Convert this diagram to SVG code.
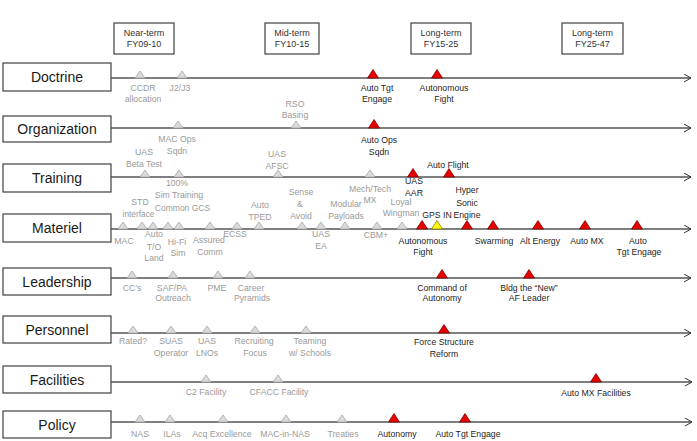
<svg xmlns="http://www.w3.org/2000/svg" xmlns:xlink="http://www.w3.org/1999/xlink" width="697" height="441" viewBox="0 0 697 441">
<style>
text{font-family:"Liberation Sans",Arial,sans-serif;text-anchor:middle}
.box{fill:#fff;stroke:#404040;stroke-width:1.2}
.lbl{font-size:14px;fill:#1a1a1a}
.per{font-size:9px;fill:#333}
.g{font-size:8.7px;fill:#9a9a9a}
.d{font-size:8.7px;fill:#262626}
.tl{stroke:#555;stroke-width:1.3;fill:none;marker-end:url(#arr)}
.tg{fill:#dadada;stroke:#a6a6a6;stroke-width:0.8}
.tr{fill:#e60000;stroke:#800000;stroke-width:0.8}
.ty{fill:#ffff00;stroke:#808000;stroke-width:0.8}
</style>
<defs>
<marker id="arr" markerUnits="userSpaceOnUse" markerWidth="10" markerHeight="10" refX="7" refY="4.5" orient="auto">
<path d="M0,0.5 L7,4.5 L0,8.5" fill="none" stroke="#333" stroke-width="1"/>
</marker>
<path id="tg" class="tg" d="M-5,0 L0,-7 L5,0Z"/>
<path id="tr" class="tr" d="M-5.5,0 L0,-8.5 L5.5,0Z"/>
<path id="ty" class="ty" d="M-5.5,0 L0,-8.5 L5.5,0Z"/>
</defs>
<rect width="697" height="441" fill="#fff"/>

<g id="connectors">
<line class="tl" x1="111" y1="78" x2="691" y2="78"/>
<line class="tl" x1="111" y1="128" x2="691" y2="128"/>
<line class="tl" x1="111" y1="177" x2="691" y2="177"/>
<line class="tl" x1="111" y1="229" x2="691" y2="229"/>
<line class="tl" x1="111" y1="278" x2="691" y2="278"/>
<line class="tl" x1="111" y1="333" x2="691" y2="333"/>
<line class="tl" x1="111" y1="382" x2="692" y2="382"/>
<line class="tl" x1="111" y1="422" x2="692" y2="422"/>
</g>

<g id="periods">
<g id="p-near"><rect class="box" x="114" y="23" width="60" height="31"/><text class="per" x="144" y="35.5">Near-term</text><text class="per" x="144" y="47">FY09-10</text></g>
<g id="p-mid"><rect class="box" x="265" y="23" width="54" height="31"/><text class="per" x="292" y="35.5">Mid-term</text><text class="per" x="292" y="47">FY10-15</text></g>
<g id="p-long1"><rect class="box" x="411" y="23" width="60" height="31"/><text class="per" x="441" y="35.5">Long-term</text><text class="per" x="441" y="47">FY15-25</text></g>
<g id="p-long2"><rect class="box" x="562" y="23" width="61" height="31"/><text class="per" x="592.5" y="35.5">Long-term</text><text class="per" x="592.5" y="47">FY25-47</text></g>
</g>

<g id="rows">
<g id="r-doctrine"><rect class="box" x="3" y="63" width="108" height="28"/><text class="lbl" x="57" y="82">Doctrine</text></g>
<g id="r-organization"><rect class="box" x="3" y="116" width="108" height="26"/><text class="lbl" x="57" y="134">Organization</text></g>
<g id="r-training"><rect class="box" x="3" y="164" width="108" height="28"/><text class="lbl" x="57" y="183">Training</text></g>
<g id="r-materiel"><rect class="box" x="3" y="214" width="108" height="28"/><text class="lbl" x="57" y="233">Materiel</text></g>
<g id="r-leadership"><rect class="box" x="3" y="268" width="108" height="27"/><text class="lbl" x="57" y="286.5">Leadership</text></g>
<g id="r-personnel"><rect class="box" x="3" y="316" width="108" height="27"/><text class="lbl" x="57" y="334.5">Personnel</text></g>
<g id="r-facilities"><rect class="box" x="3" y="366" width="108" height="27"/><text class="lbl" x="57" y="384.5">Facilities</text></g>
<g id="r-policy"><rect class="box" x="3" y="411" width="108" height="27"/><text class="lbl" x="57" y="429.5">Policy</text></g>
</g>

<g id="m-doctrine">
<g id="d1"><use href="#tg" x="140" y="78"/><text class="g" x="143" y="90.5">CCDR</text><text class="g" x="143" y="101.5">allocation</text></g>
<g id="d2"><use href="#tg" x="182" y="78"/><text class="g" x="180" y="90.5">J2/J3</text></g>
<g id="d3"><use href="#tr" x="373" y="78"/><text class="d" x="377" y="90.5">Auto Tgt</text><text class="d" x="377" y="101.5">Engage</text></g>
<g id="d4"><use href="#tr" x="437" y="78"/><text class="d" x="444" y="90.5">Autonomous</text><text class="d" x="444" y="101.5">Fight</text></g>
</g>

<g id="m-organization">
<g id="o1"><use href="#tg" x="296" y="128"/><text class="g" x="295" y="107">RSO</text><text class="g" x="295" y="118">Basing</text></g>
<g id="o2"><use href="#tg" x="178" y="128"/><text class="g" x="177" y="142">MAC Ops</text><text class="g" x="177" y="154">Sqdn</text></g>
<g id="o3"><use href="#tr" x="374" y="128"/><text class="d" x="379" y="143">Auto Ops</text><text class="d" x="379" y="154.5">Sqdn</text></g>
</g>

<g id="m-training">
<g id="t1"><use href="#tg" x="145" y="177"/><text class="g" x="144" y="155">UAS</text><text class="g" x="144" y="166.5">Beta Test</text></g>
<g id="t2"><use href="#tg" x="179" y="177"/><text class="g" x="177" y="186">100%</text><text class="g" x="179" y="198">Sim Training</text></g>
<g id="t3"><use href="#tg" x="278" y="177"/><text class="g" x="277" y="157">UAS</text><text class="g" x="277" y="169">AFSC</text></g>
<g id="t4"><use href="#tg" x="370" y="177"/><text class="g" x="370" y="191.5">Mech/Tech</text><text class="g" x="370" y="203">MX</text></g>
<g id="t5"><use href="#tr" x="413" y="177"/><text class="d" x="414" y="184">UAS</text><text class="d" x="414" y="196">AAR</text></g>
<g id="t6"><use href="#tr" x="449" y="177"/><text class="d" x="448" y="168">Auto Flight</text></g>
</g>

<g id="m-materiel">
<g id="ma1"><use href="#tg" x="123" y="229"/><text class="g" x="124" y="244">MAC</text></g>
<g id="ma2"><use href="#tg" x="142" y="229"/><text class="g" x="140" y="205">STD</text><text class="g" x="138.5" y="216.5" style="font-size:8.3px">interface</text></g>
<g id="ma3"><use href="#tg" x="153" y="229"/><text class="g" x="154" y="237">Auto</text><text class="g" x="154" y="249.5">T/O</text><text class="g" x="154" y="261">Land</text></g>
<g id="ma4"><use href="#tg" x="168" y="229"/><text class="g" x="182.5" y="210.5" style="font-size:8.5px">Common GCS</text></g>
<g id="ma5"><use href="#tg" x="179" y="229"/><text class="g" x="177" y="245">Hi-Fi</text><text class="g" x="178" y="256">Sim</text></g>
<g id="ma6"><use href="#tg" x="210" y="229"/><text class="g" x="209" y="243">Assured</text><text class="g" x="210" y="255">Comm</text></g>
<g id="ma7"><use href="#tg" x="237" y="229"/><text class="g" x="235" y="237">ECSS</text></g>
<g id="ma8"><use href="#tg" x="259" y="229"/><text class="g" x="260" y="208">Auto</text><text class="g" x="260" y="219.5">TPED</text></g>
<g id="ma9"><use href="#tg" x="302" y="229"/><text class="g" x="301" y="195">Sense</text><text class="g" x="300" y="207">&amp;</text><text class="g" x="301" y="218.5">Avoid</text></g>
<g id="ma10"><use href="#tg" x="321" y="229"/><text class="g" x="321" y="236.5">UAS</text><text class="g" x="321" y="249">EA</text></g>
<g id="ma11"><use href="#tg" x="345" y="229"/><text class="g" x="346" y="207">Modular</text><text class="g" x="346" y="218.5">Payloads</text></g>
<g id="ma12"><use href="#tg" x="377" y="229"/><text class="g" x="376" y="237.5">CBM+</text></g>
<g id="ma13"><use href="#tg" x="402" y="229"/><text class="g" x="401" y="205">Loyal</text><text class="g" x="401" y="216">Wingman</text></g>
<g id="ma14"><use href="#tr" x="422" y="229"/><text class="d" x="423" y="243.5">Autonomous</text><text class="d" x="423" y="255">Fight</text></g>
<g id="ma15"><use href="#ty" x="437" y="229"/><text class="d" x="437" y="217.5">GPS IN</text></g>
<g id="ma16"><use href="#tr" x="467" y="229"/><text class="d" x="467" y="193">Hyper</text><text class="d" x="467" y="205.5">Sonic</text><text class="d" x="467" y="217.5">Engine</text></g>
<g id="ma17"><use href="#tr" x="493" y="229"/><text class="d" x="494" y="243.5">Swarming</text></g>
<g id="ma18"><use href="#tr" x="538" y="229"/><text class="d" x="540" y="243.5">Alt Energy</text></g>
<g id="ma19"><use href="#tr" x="585" y="229"/><text class="d" x="587" y="243.5">Auto MX</text></g>
<g id="ma20"><use href="#tr" x="637" y="229"/><text class="d" x="638" y="243.5">Auto</text><text class="d" x="639" y="255">Tgt Engage</text></g>
</g>

<g id="m-leadership">
<g id="l1"><use href="#tg" x="132" y="278"/><text class="g" x="132" y="290.5">CC’s</text></g>
<g id="l2"><use href="#tg" x="173" y="278"/><text class="g" x="172" y="290.5">SAF/PA</text><text class="g" x="173" y="300.5">Outreach</text></g>
<g id="l3"><use href="#tg" x="218" y="278"/><text class="g" x="217" y="290.5">PME</text></g>
<g id="l4"><use href="#tg" x="250" y="278"/><text class="g" x="251" y="290.5">Career</text><text class="g" x="252" y="300.5">Pyramids</text></g>
<g id="l5"><use href="#tr" x="442" y="278"/><text class="d" x="442" y="290.5">Command of</text><text class="d" x="442" y="300.5">Autonomy</text></g>
<g id="l6"><use href="#tr" x="529" y="278"/><text class="d" x="529" y="290.5">Bldg the “New”</text><text class="d" x="529" y="300.5">AF Leader</text></g>
</g>

<g id="m-personnel">
<g id="pe1"><use href="#tg" x="133" y="333"/><text class="g" x="133" y="344">Rated?</text></g>
<g id="pe2"><use href="#tg" x="171" y="333"/><text class="g" x="171" y="344">SUAS</text><text class="g" x="171" y="355.5">Operator</text></g>
<g id="pe3"><use href="#tg" x="207" y="333"/><text class="g" x="207" y="344">UAS</text><text class="g" x="207" y="355.5">LNOs</text></g>
<g id="pe4"><use href="#tg" x="255" y="333"/><text class="g" x="254" y="344">Recruiting</text><text class="g" x="255" y="355.5">Focus</text></g>
<g id="pe5"><use href="#tg" x="306" y="333"/><text class="g" x="310" y="344">Teaming</text><text class="g" x="310" y="355.5">w/ Schools</text></g>
<g id="pe6"><use href="#tr" x="444" y="333"/><text class="d" x="444" y="345">Force Structure</text><text class="d" x="444" y="356.5">Reform</text></g>
</g>

<g id="m-facilities">
<g id="f1"><use href="#tg" x="206" y="382"/><text class="g" x="206" y="394.5">C2 Facility</text></g>
<g id="f2"><use href="#tg" x="278" y="382"/><text class="g" x="279" y="394.5">CFACC Facility</text></g>
<g id="f3"><use href="#tr" x="596" y="382"/><text class="d" x="596" y="395.5">Auto MX Facilities</text></g>
</g>

<g id="m-policy">
<g id="po1"><use href="#tg" x="140" y="422"/><text class="g" x="140" y="436.5">NAS</text></g>
<g id="po2"><use href="#tg" x="170" y="422"/><text class="g" x="172" y="436.5">ILAs</text></g>
<g id="po3"><use href="#tg" x="223" y="422"/><text class="g" x="222" y="436.5">Acq Excellence</text></g>
<g id="po4"><use href="#tg" x="286" y="422"/><text class="g" x="285" y="436.5">MAC-in-NAS</text></g>
<g id="po5"><use href="#tg" x="342" y="422"/><text class="g" x="343" y="436.5">Treaties</text></g>
<g id="po6"><use href="#tr" x="394" y="422"/><text class="d" x="397" y="436.5">Autonomy</text></g>
<g id="po7"><use href="#tr" x="465" y="422"/><text class="d" x="468" y="436.5">Auto Tgt Engage</text></g>
</g>
</svg>
